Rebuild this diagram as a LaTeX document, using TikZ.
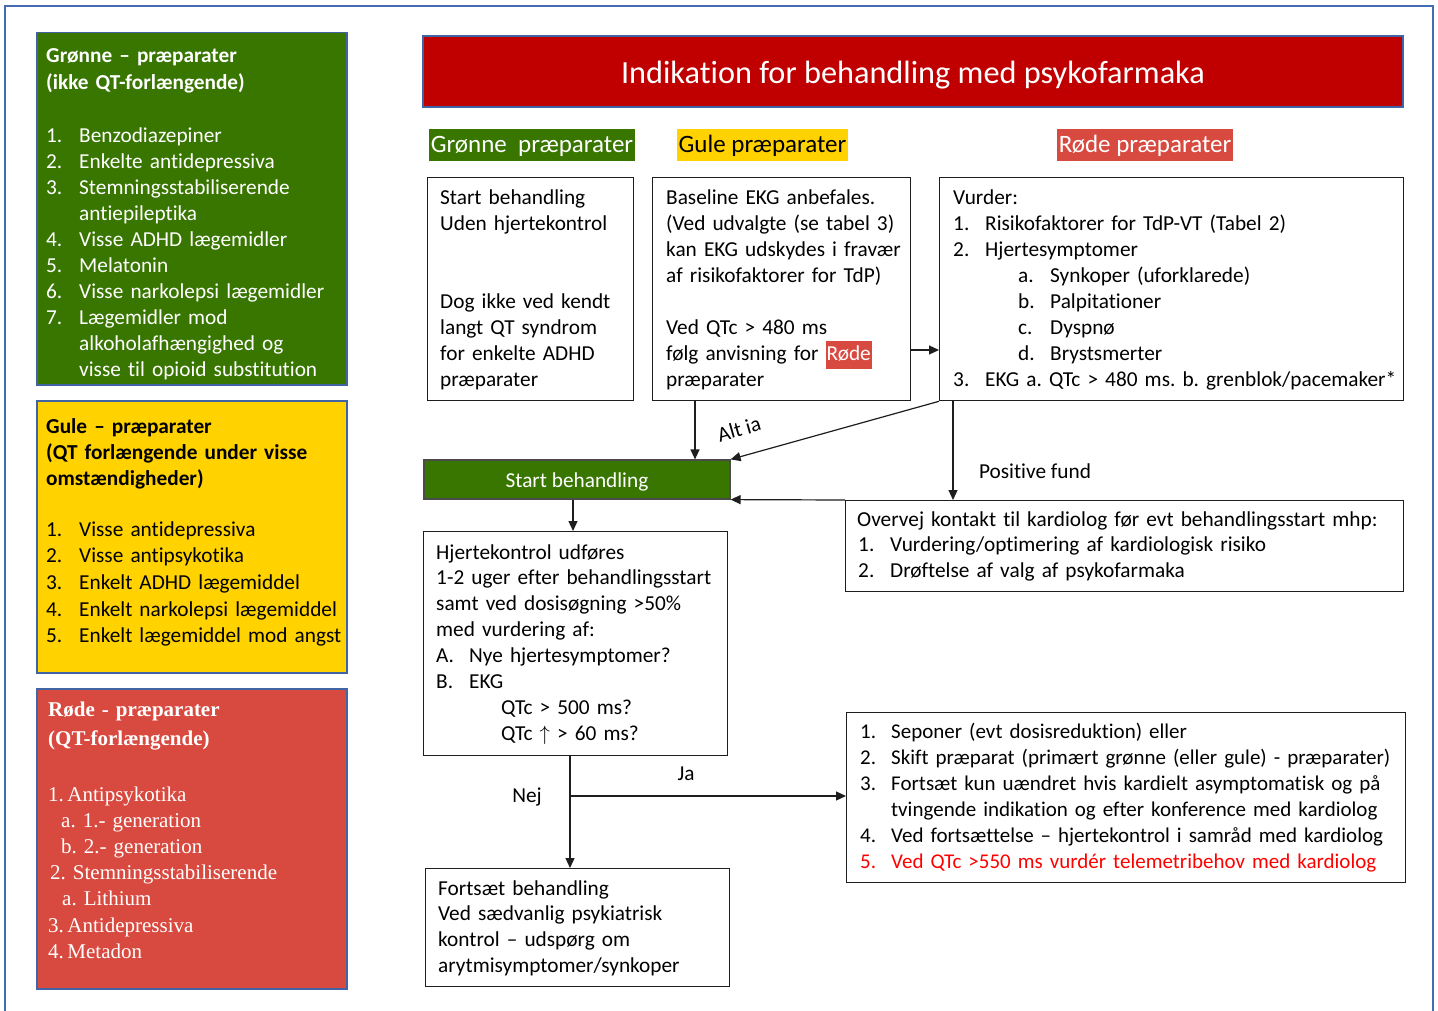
\documentclass[tikz,border=0pt]{standalone}
\usepackage{fontspec}
\setmainfont{Carlito}[Ligatures=NoCommon]
\newfontfamily\timesf{Liberation Serif}
\usetikzlibrary{arrows.meta}
\definecolor{grn}{RGB}{56,118,0}
\definecolor{yel}{RGB}{255,210,0}
\definecolor{redl}{RGB}{216,74,64}
\definecolor{redt}{RGB}{192,0,0}
\definecolor{frameblue}{RGB}{68,108,180}
\definecolor{edgeblue}{RGB}{65,100,165}
\definecolor{ink}{RGB}{30,30,30}
\newcommand\itm[2][33pt]{\makebox[#1][l]{#2}}
\newcommand\hlred[1]{{\setlength\fboxsep{1pt}\colorbox{redl}{\strut\textcolor{white}{#1}}}}
\frenchspacing
\begin{document}
\begin{tikzpicture}[x=1pt,y=-1pt,
  body/.style={font=\fontsize{21.3}{25.9}\selectfont\frenchspacing},
  txt/.style={body, anchor=base west, inner sep=0pt, align=left, text width=600pt},
  box/.style={draw=ink, line width=1.3pt, anchor=north west, inner sep=0pt},
  legend/.style={draw=edgeblue, line width=1.5pt, anchor=north west, inner sep=0pt},
  hdr/.style={font=\fontsize{25}{28}\selectfont, inner xsep=0pt, inner ysep=4pt, text height=20pt, text depth=4pt},
  arr/.style={draw=ink, line width=1.2pt, -{Triangle[length=10pt,width=9pt]}},
  lbl/.style={body, inner sep=0pt}
]
\useasboundingbox (0,0) rectangle (1438,1011);
\fill[white] (0,0) rectangle (1438,1011);
\draw[frameblue, line width=2.2pt] (5,1012) -- (5,6) -- (1433,6) -- (1433,1012);

% legend boxes
\node[legend, fill=grn, minimum width=310pt, minimum height=352pt] (Lg) at (36,32) {};
\node[txt, text=white, font=\fontsize{21.3}{27}\selectfont\bfseries] (Lgt) at (46,63) {Grønne – præparater\\(ikke QT-forlængende)};
\node[txt, text=white] (Lgl) at (46,143) {\itm{1.}Benzodiazepiner\\\itm{2.}Enkelte antidepressiva\\\itm{3.}Stemningsstabiliserende\\\itm{}antiepileptika\\\itm{4.}Visse ADHD lægemidler\\\itm{5.}Melatonin\\\itm{6.}Visse narkolepsi lægemidler\\\itm{7.}Lægemidler mod\\\itm{}alkoholafhængighed og\\\itm{}visse til opioid substitution};

\node[legend, fill=yel, minimum width=310pt, minimum height=272pt] (Ly) at (36,400) {};
\node[txt, font=\fontsize{21.3}{26}\selectfont\bfseries] (Lyt) at (46,433) {Gule – præparater\\(QT forlængende under visse\\omstændigheder)};
\node[txt, font=\fontsize{21.3}{26.7}\selectfont] (Lyl) at (46,536) {\itm{1.}Visse antidepressiva\\\itm{2.}Visse antipsykotika\\\itm{3.}Enkelt ADHD lægemiddel\\\itm{4.}Enkelt narkolepsi lægemiddel\\\itm{5.}Enkelt lægemiddel mod angst};

\node[legend, fill=redl, minimum width=310pt, minimum height=300pt] (Lr) at (36,688) {};
\node[txt, text=white, font=\timesf\fontsize{21}{29}\selectfont\bfseries] (Lrt) at (48,716) {Røde - præparater\\(QT-forlængende)};
\node[txt, text=white, font=\timesf\fontsize{21}{26.2}\selectfont\frenchspacing] (Lrl) at (48,801) {1.\,Antipsykotika\\\hspace*{13pt}a. 1.- generation\\\hspace*{13pt}b. 2.- generation\\\hspace*{2pt}2. Stemningsstabiliserende\\\hspace*{14pt}a. Lithium\\3.\,Antidepressiva\\4.\,Metadon};

% title and headers
\node[draw=edgeblue, line width=1.5pt, fill=redt, minimum width=980pt, minimum height=71pt, inner sep=0pt] (T) at (913,71.5) {};
\node[text=white, inner sep=0pt, font=\fontsize{32.3}{36}\selectfont] (Tt) at (913,75) {Indikation for behandling med psykofarmaka};
\node[hdr, fill=grn, text=white, minimum width=206pt] (Hg) at (532,145) {Grønne\ \ præparater};
\node[hdr, fill=yel, minimum width=171pt] (Hy) at (762.5,145) {Gule præparater};
\node[hdr, fill=redl, text=white, minimum width=176pt] (Hr) at (1145,145) {Røde præparater};

% column boxes
\node[box, minimum width=206pt, minimum height=223pt] (A) at (427,177) {};
\node[txt] (At) at (440,205) {Start behandling\\Uden hjertekontrol\\[51.8pt]Dog ikke ved kendt\\langt QT syndrom\\for enkelte ADHD\\præparater};

\node[box, minimum width=258pt, minimum height=223pt] (B) at (652,177) {};
\node[txt] (Bt) at (666,205) {Baseline EKG anbefales.\\(Ved udvalgte (se tabel 3)\\kan EKG udskydes i fravær\\af risikofaktorer for TdP)\\[25.9pt]Ved QTc > 480 ms\\følg anvisning for \hlred{Røde}\\præparater};

\node[box, minimum width=464pt, minimum height=223pt] (C) at (939,177) {};
\node[txt] (Ct) at (953,205) {Vurder:\\\itm[32pt]{1.}Risikofaktorer for TdP-VT (Tabel 2)\\\itm[32pt]{2.}Hjertesymptomer\\\hspace*{65pt}\itm[32pt]{a.}Synkoper (uforklarede)\\\hspace*{65pt}\itm[32pt]{b.}Palpitationer\\\hspace*{65pt}\itm[32pt]{c.}Dyspnø\\\hspace*{65pt}\itm[32pt]{d.}Brystsmerter\\\itm[32pt]{3.}EKG a. QTc > 480 ms. b. grenblok/pacemaker*};

% flow
\node[fill=grn, draw=ink!80, line width=1.2pt, minimum width=306pt, minimum height=39pt, inner sep=0pt] (S) at (577,479.5) {};
\node[text=white, body, inner sep=0pt] (St) at (577,482) {Start behandling};

\node[box, minimum width=304pt, minimum height=224pt] (H) at (423,531) {};
\node[txt] (Ht) at (436,559) {Hjertekontrol udføres\\1-2 uger efter behandlingsstart\\samt ved dosisøgning >50\%\\med vurdering af:\\\itm{A.}Nye hjertesymptomer?\\\itm{B.}EKG\\\hspace*{65pt}QTc > 500 ms?\\\hspace*{65pt}QTc $\uparrow$ > 60 ms?};

\node[box, minimum width=558pt, minimum height=91pt] (O) at (845,500) {};
\node[txt] (Ot) at (857,526) {Overvej kontakt til kardiolog før evt behandlingsstart mhp:\\\itm[33pt]{\hspace*{1pt}1.}Vurdering/optimering af kardiologisk risiko\\\itm[33pt]{\hspace*{1pt}2.}Drøftelse af valg af psykofarmaka};

\node[box, minimum width=559pt, minimum height=170pt] (D) at (846,712) {};
\node[txt, font=\fontsize{21}{26}\selectfont\frenchspacing] (Dt) at (860,738) {\itm[31pt]{1.}Seponer (evt dosisreduktion) eller\\\itm[31pt]{2.}Skift præparat (primært grønne (eller gule) - præparater)\\\itm[31pt]{3.}Fortsæt kun uændret hvis kardielt asymptomatisk og på\\\itm[31pt]{}tvingende indikation og efter konference med kardiolog\\\itm[31pt]{4.}Ved fortsættelse – hjertekontrol i samråd med kardiolog\\\textcolor{red}{\itm[31pt]{5.}Ved QTc >550 ms vurdér telemetribehov med kardiolog}};

\node[box, minimum width=304pt, minimum height=118pt] (F) at (425,868) {};
\node[txt] (Ft) at (438,895) {Fortsæt behandling\\Ved sædvanlig psykiatrisk\\kontrol – udspørg om\\arytmisymptomer/synkoper};

% connectors
\coordinate (ybc) at (0,350);
\draw[arr] (B.east |- ybc) -- (C.west |- ybc);
\coordinate (xbs) at (695,0);
\draw[arr] (B.south -| xbs) -- (S.north -| xbs);
\draw[arr] (C.south west) -- (S.north east);
\node[lbl, rotate=16] (alt) at (739,429) {Alt ia};
\coordinate (xcp) at (953,0);
\draw[arr] (C.south -| xcp) -- (O.north -| xcp);
\node[lbl] (pos) at (1035,471) {Positive fund};
\draw[arr] (O.north west) -- (S.south east);
\coordinate (xsh) at (573,0);
\draw[arr] (S.south -| xsh) -- (H.north -| xsh);
\coordinate (xhf) at (570,0);
\draw[arr] (H.south -| xhf) -- (F.north -| xhf);
\coordinate (br) at (570,796);
\draw[arr] (br) -- (D.west |- br);
\node[lbl] (nej) at (527,797) {Nej};
\node[lbl] (ja) at (686,774) {Ja};
\end{tikzpicture}
\end{document}
